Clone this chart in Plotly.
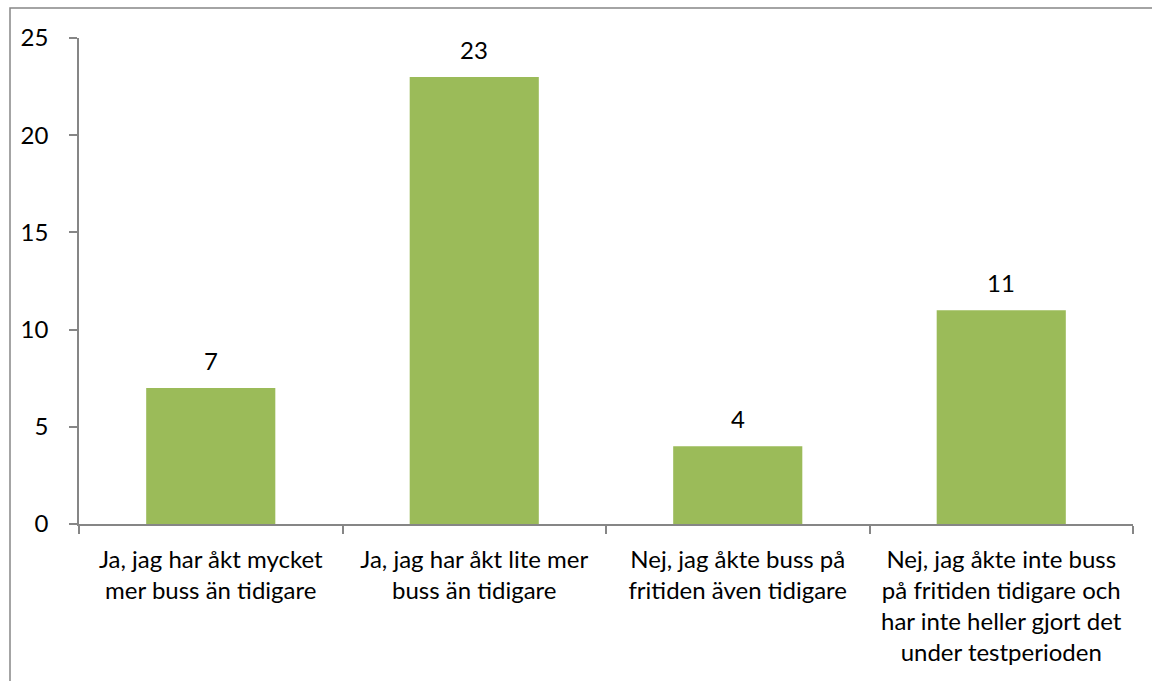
import plotly.graph_objects as go

categories = [
    "Ja, jag har åkt mycket<br>mer buss än tidigare",
    "Ja, jag har åkt lite mer<br>buss än tidigare",
    "Nej, jag åkte buss på<br>fritiden även tidigare",
    "Nej, jag åkte inte buss<br>på fritiden tidigare och<br>har inte heller gjort det<br>under testperioden",
]
values = [7, 23, 4, 11]
y_ticks = [0, 5, 10, 15, 20, 25]

FONT = "Lato"
FS = 24
AXIS = "#868686"
BAR = "#9BBB59"

fig = go.Figure(
    go.Bar(
        x=categories,
        y=values,
        marker=dict(color=BAR, line=dict(width=0)),
        hoverinfo="skip",
    )
)

# value labels above each bar
for c, v in zip(categories, values):
    fig.add_annotation(
        x=c, y=v, text=str(v), showarrow=False,
        yanchor="bottom", yshift=11,
        font=dict(family=FONT, size=FS, color="#000000"),
    )

L, R, T, B = 79, 19, 38, 157
W, H = 1152, 681
pw, ph = W - L - R, H - T - B

# outer chart frame
fig.add_shape(
    type="rect", xref="paper", yref="paper",
    x0=(10 - L) / pw, x1=(W + 20 - L) / pw,
    y0=-(B + 20) / ph, y1=1 + (T - 8) / ph,
    line=dict(color=AXIS, width=1.5), fillcolor="rgba(0,0,0,0)",
    layer="below",
)

fig.update_layout(
    width=W, height=H,
    margin=dict(l=L, r=R, t=T, b=B, pad=0),
    paper_bgcolor="white", plot_bgcolor="white",
    bargap=0.51,
    showlegend=False,
    font=dict(family=FONT, size=FS, color="#000000"),
    xaxis=dict(
        type="category",
        showline=True, linecolor=AXIS, linewidth=1.5,
        ticks="outside", ticklen=8, tickcolor=AXIS, tickwidth=1.5,
        tickson="boundaries",
        showgrid=False,
        tickfont=dict(family=FONT, size=FS, color="#000000"),
        ticklabelstandoff=13,
    ),
    yaxis=dict(
        range=[0, 25], tickvals=y_ticks,
        showline=True, linecolor=AXIS, linewidth=1.5,
        ticks="outside", ticklen=8, tickcolor=AXIS, tickwidth=1.5,
        showgrid=False, zeroline=False,
        tickfont=dict(family=FONT, size=FS, color="#000000"),
        ticklabelstandoff=16,
    ),
)

fig.write_html("out.html")
